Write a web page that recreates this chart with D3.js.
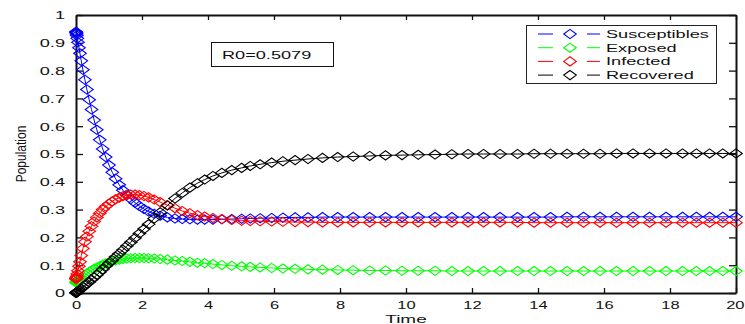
<!DOCTYPE html>
<html><head><meta charset="utf-8">
<script src="https://cdn.jsdelivr.net/npm/d3@7"></script>
<style>
body{margin:0;background:#fff}
svg{display:block}
text{font-family:"Liberation Sans",Arial,Helvetica,sans-serif;fill:#111}
</style>
</head><body>
<svg id="chart" width="745" height="324"></svg>
<script>
// ---- data ----
const times = [0, 0.004, 0.008, 0.012, 0.016, 0.025, 0.04, 0.06, 0.09, 0.12,
  0.16, 0.21, 0.27, 0.33, 0.4, 0.47, 0.55, 0.63, 0.72, 0.81,
  0.9, 1.0, 1.1, 1.2, 1.31, 1.42, 1.54, 1.66, 1.79, 1.92,
  2.06, 2.2, 2.37, 2.55, 2.77, 3.0, 3.22, 3.45, 3.68, 3.9,
  4.15, 4.42, 4.72, 5.02, 5.28, 5.58, 5.93, 6.27, 6.64, 7.03,
  7.47, 7.93, 8.4, 8.9, 9.38, 9.88, 10.37, 10.88, 11.39, 11.88,
  12.35, 12.85, 13.38, 13.88, 14.38, 14.88, 15.38, 15.88, 16.38, 16.88,
  17.38, 17.88, 18.38, 18.8, 19.2, 19.6, 20];

const susceptibles = [0.940, 0.939, 0.937, 0.935, 0.932, 0.926, 0.916, 0.902, 0.882, 0.862,
  0.835, 0.803, 0.767, 0.732, 0.695, 0.66, 0.622, 0.587, 0.551, 0.518,
  0.489, 0.46, 0.434, 0.411, 0.389, 0.37, 0.353, 0.338, 0.325, 0.313,
  0.302, 0.293, 0.285, 0.278, 0.272, 0.268, 0.266, 0.265, 0.264, 0.264,
  0.264, 0.265, 0.266, 0.267, 0.268, 0.269, 0.27, 0.271, 0.272, 0.272,
  0.273, 0.273, 0.273, 0.273, 0.273, 0.273, 0.273, 0.273, 0.273, 0.273,
  0.273, 0.273, 0.273, 0.273, 0.273, 0.274, 0.274, 0.274, 0.274, 0.274,
  0.274, 0.274, 0.274, 0.274, 0.274, 0.274, 0.274];

const exposed = [0.038, 0.038, 0.039, 0.039, 0.04, 0.041, 0.043, 0.045, 0.048, 0.051,
  0.055, 0.06, 0.065, 0.07, 0.076, 0.081, 0.087, 0.092, 0.097, 0.102,
  0.106, 0.11, 0.114, 0.117, 0.12, 0.122, 0.124, 0.125, 0.126, 0.126,
  0.126, 0.125, 0.124, 0.122, 0.12, 0.117, 0.115, 0.112, 0.109, 0.107,
  0.104, 0.101, 0.098, 0.096, 0.094, 0.092, 0.09, 0.088, 0.087, 0.085,
  0.084, 0.083, 0.082, 0.081, 0.081, 0.08, 0.08, 0.08, 0.079, 0.079,
  0.079, 0.079, 0.079, 0.079, 0.079, 0.079, 0.079, 0.079, 0.079, 0.079,
  0.079, 0.079, 0.079, 0.079, 0.079, 0.079, 0.079];

const infected = [0.05, 0.051, 0.052, 0.054, 0.056, 0.06, 0.068, 0.08, 0.096, 0.112,
  0.135, 0.16, 0.184, 0.203, 0.222, 0.24, 0.257, 0.272, 0.287, 0.3,
  0.311, 0.321, 0.33, 0.337, 0.343, 0.348, 0.352, 0.354, 0.354, 0.352,
  0.349, 0.344, 0.336, 0.327, 0.316, 0.305, 0.295, 0.287, 0.28, 0.275,
  0.27, 0.266, 0.263, 0.26, 0.259, 0.258, 0.257, 0.256, 0.255, 0.255,
  0.254, 0.254, 0.254, 0.254, 0.254, 0.254, 0.254, 0.254, 0.254, 0.254,
  0.254, 0.254, 0.254, 0.253, 0.253, 0.253, 0.253, 0.253, 0.253, 0.253,
  0.253, 0.253, 0.253, 0.253, 0.253, 0.253, 0.253];

const recovered = [0, 0.0005, 0.001, 0.0015, 0.002, 0.003, 0.004, 0.006, 0.009, 0.012,
  0.016, 0.021, 0.027, 0.033, 0.04, 0.048, 0.056, 0.065, 0.075, 0.085,
  0.096, 0.107, 0.118, 0.13, 0.142, 0.155, 0.169, 0.183, 0.198, 0.214,
  0.23, 0.247, 0.268, 0.29, 0.315, 0.34, 0.36, 0.379, 0.395, 0.408,
  0.421, 0.432, 0.442, 0.45, 0.457, 0.463, 0.469, 0.474, 0.478, 0.482,
  0.486, 0.489, 0.491, 0.493, 0.495, 0.496, 0.497, 0.498, 0.499, 0.5,
  0.5, 0.5, 0.5, 0.501, 0.501, 0.501, 0.501, 0.501, 0.502, 0.502,
  0.502, 0.502, 0.502, 0.502, 0.502, 0.502, 0.502];

const seriesNames = ["Susceptibles", "Exposed", "Infected", "Recovered"];
const xTickValues = [0, 2, 4, 6, 8, 10, 12, 14, 16, 18, 20];
const xTickLabels = ["0", "2", "4", "6", "8", "10", "12", "14", "16", "18", "20"];
const yTickValues = [0, 0.1, 0.2, 0.3, 0.4, 0.5, 0.6, 0.7, 0.8, 0.9, 1];
const yTickLabels = ["0", "0.1", "0.2", "0.3", "0.4", "0.5", "0.6", "0.7", "0.8", "0.9", "1"];
const annotationText = "R0=0.5079";
const xAxisTitle = "Time";
const yAxisTitle = "Population";

// ---- styling / layout ----
const seriesColors = ["#0000ff", "#00ff00", "#ff0000", "#000000"];
const SX = 1.65;          // horizontal stretch of the original figure's text
const SXT = 1.5;          // stretch of the x tick labels
const FONT = 11;
const W = 745;
const plot = {left: 76, right: 736, top: 15, bottom: 293};

const svg = d3.select("#chart");
const x = d3.scaleLinear().domain([0, 20]).range([plot.left, plot.right]);
const y = d3.scaleLinear().domain([0, 1]).range([plot.bottom, plot.top]);

function styleText(sel) {
  sel.style("font-size", FONT + "px").style("font-family", '"Liberation Sans",Arial,sans-serif').attr("fill", "#111");
}

// axes (ticks pointing inward, box on)
const gx = svg.append("g").attr("transform", `translate(0,${plot.bottom})`)
  .call(d3.axisBottom(x).tickValues(xTickValues).tickFormat((d, i) => xTickLabels[i]).tickSize(-5).tickSizeOuter(0));
gx.selectAll(".tick text").attr("y", null).attr("dy", null).call(styleText)
  .each(function(d) {
    // keep the label inside the picture when it sits at the right edge
    const half = this.getComputedTextLength() * SXT / 2;
    const dx = Math.min(0, (W - 1) - (x(d) + half));
    d3.select(this).attr("transform", `translate(${dx},16) scale(${SXT},1)`);
  });

const gxt = svg.append("g").attr("transform", `translate(0,${plot.top})`)
  .call(d3.axisTop(x).tickValues(xTickValues).tickFormat("").tickSize(-5).tickSizeOuter(0));

const gy = svg.append("g").attr("transform", `translate(${plot.left},0)`)
  .call(d3.axisLeft(y).tickValues(yTickValues).tickFormat((d, i) => yTickLabels[i]).tickSize(-7).tickSizeOuter(0));
gy.selectAll(".tick text").attr("x", null).attr("dy", "0.36em")
  .attr("transform", `translate(-11,0) scale(${SX},1)`).call(styleText);

const gyr = svg.append("g").attr("transform", `translate(${plot.right},0)`)
  .call(d3.axisRight(y).tickValues(yTickValues).tickFormat("").tickSize(-7).tickSizeOuter(0));

[gx, gxt, gy, gyr].forEach(g => {
  g.select(".domain").attr("stroke", "#111").attr("stroke-width", 2);
  g.selectAll(".tick line").attr("stroke", "#111").attr("stroke-width", 1.3);
});

// axis titles
svg.append("text").text(xAxisTitle).attr("text-anchor", "middle")
  .attr("transform", `translate(${(plot.left + plot.right) / 2},323) scale(${SX},1)`)
  .call(styleText).style("font-size", "11.5px");
svg.append("text").text(yAxisTitle).attr("text-anchor", "middle")
  .attr("transform", `translate(26,${(plot.top + plot.bottom) / 2}) scale(1.15,1) rotate(-90)`)
  .call(styleText).style("font-size", "12px");

// data series
const seriesData = [susceptibles, exposed, infected, recovered];
const diamond = (hw, hh) => `M0,${-hh}L${hw},0L0,${hh}L${-hw},0Z`;
const line = d3.line().x(d => x(d[0])).y(d => y(d[1]));

seriesData.forEach((vals, si) => {
  const pts = times.map((t, i) => [t, vals[i]]);
  const g = svg.append("g");
  g.append("path").datum(pts).attr("d", line)
    .attr("fill", "none").attr("stroke", seriesColors[si]).attr("stroke-width", 1);
  g.selectAll("path.m").data(pts).enter().append("path").attr("class", "m")
    .attr("d", diamond(6.3, 4.6))
    .attr("transform", d => `translate(${x(d[0])},${y(d[1])})`)
    .attr("fill", "none").attr("stroke", seriesColors[si]).attr("stroke-width", 1.1);
});

// annotation box
const ann = svg.append("g");
ann.append("rect").attr("x", 211.5).attr("y", 42.5).attr("width", 122).attr("height", 24)
  .attr("fill", "#fff").attr("stroke", "#111").attr("stroke-width", 1);
ann.append("text").text(annotationText)
  .attr("transform", `translate(222,58.5) scale(${SX},1)`).call(styleText);

// legend
const lg = svg.append("g");
lg.append("rect").attr("x", 526.5).attr("y", 25.5).attr("width", 190).attr("height", 58)
  .attr("fill", "#fff").attr("stroke", "#222").attr("stroke-width", 1);
seriesNames.forEach((name, i) => {
  const ry = 34 + i * 13.7;
  const row = lg.append("g");
  row.append("line").attr("x1", 538).attr("x2", 553).attr("y1", ry).attr("y2", ry)
    .attr("stroke", seriesColors[i]).attr("stroke-width", 1);
  row.append("line").attr("x1", 587).attr("x2", 600).attr("y1", ry).attr("y2", ry)
    .attr("stroke", seriesColors[i]).attr("stroke-width", 1);
  row.append("path").attr("d", diamond(6.3, 4.6)).attr("transform", `translate(570,${ry})`)
    .attr("fill", "none").attr("stroke", seriesColors[i]).attr("stroke-width", 1.1);
  row.append("text").text(name).attr("transform", `translate(606,${ry + 4}) scale(${SX},1)`).call(styleText);
});
</script>
</body></html>
